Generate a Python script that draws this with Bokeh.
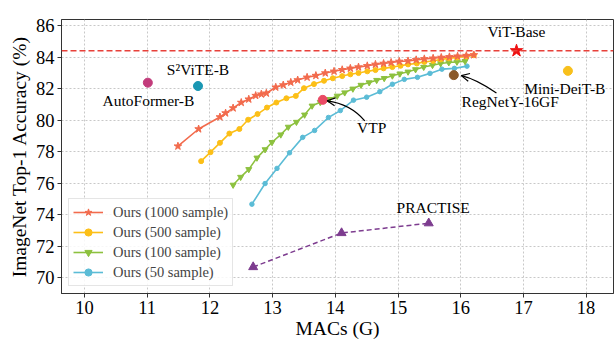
from bokeh.plotting import figure
from bokeh.models import Range1d, Span, Arrow, OpenHead, FixedTicker, Legend, LegendItem
from bokeh.core.properties import value
from bokeh.embed import file_html
from bokeh.resources import INLINE

# ---- data ----
x_1000 = [11.49, 11.82, 12.16, 12.25, 12.37, 12.50, 12.62, 12.73, 12.82, 12.90, 13.05, 13.17, 13.29, 13.40,
          13.55, 13.69, 13.84, 13.98, 14.11, 14.24, 14.37, 14.51, 14.64, 14.77, 14.89, 15.02, 15.16, 15.29,
          15.42, 15.56, 15.69, 15.82, 15.95, 16.09, 16.21]
y_1000 = [78.36, 79.45, 80.21, 80.46, 80.78, 81.13, 81.34, 81.57, 81.66, 81.72, 82.10, 82.24, 82.41, 82.56,
          82.73, 82.84, 83.00, 83.11, 83.21, 83.30, 83.38, 83.46, 83.55, 83.61, 83.67, 83.74, 83.77, 83.84,
          83.90, 83.94, 83.99, 84.03, 84.07, 84.11, 84.15]

x_500 = [11.86, 12.01, 12.16, 12.31, 12.47, 12.61, 12.76, 12.91, 13.06, 13.22, 13.37, 13.50, 13.66, 13.82,
         13.96, 14.11, 14.24, 14.37, 14.51, 14.64, 14.77, 14.91, 15.04, 15.16, 15.30, 15.42, 15.56, 15.68,
         15.81, 15.94, 16.09, 16.21]
y_500 = [77.41, 77.98, 78.57, 79.16, 79.45, 80.04, 80.40, 80.81, 81.13, 81.40, 81.55, 82.04, 82.30, 82.51,
         82.67, 82.81, 82.92, 83.00, 83.11, 83.19, 83.30, 83.38, 83.46, 83.55, 83.61, 83.71, 83.77, 83.86,
         83.93, 83.99, 84.05, 84.13]

x_100 = [12.37, 12.49, 12.62, 12.75, 12.88, 12.99, 13.13, 13.25, 13.38, 13.51, 13.63, 13.76, 13.90, 14.03,
         14.15, 14.28, 14.41, 14.54, 14.66, 14.78, 14.91, 15.03, 15.16, 15.28, 15.41, 15.55, 15.68, 15.81,
         15.94, 16.07]
y_100 = [75.90, 76.40, 76.89, 77.62, 78.15, 78.61, 79.09, 79.58, 79.89, 80.35, 80.92, 81.15, 81.34, 81.55,
         81.76, 82.00, 82.24, 82.40, 82.55, 82.67, 82.83, 82.96, 83.08, 83.23, 83.38, 83.50, 83.61, 83.67,
         83.71, 83.75]

x_50 = [12.67, 12.88, 13.07, 13.27, 13.48, 13.67, 13.89, 14.08, 14.29, 14.50, 14.71, 14.91, 15.10, 15.31,
        15.51, 15.70, 15.90, 16.10]
y_50 = [74.68, 75.99, 76.95, 77.94, 78.92, 79.36, 80.18, 80.62, 81.28, 81.47, 81.82, 82.29, 82.60, 82.73,
        82.98, 83.25, 83.30, 83.44]

x_practise = [12.69, 14.10, 15.49]
y_practise = [70.69, 72.85, 73.47]

other_names = ["AutoFormer-B", "S²ViTE-B", "VTP", "RegNetY-16GF", "Mini-DeiT-B"]
other_x = [11.01, 11.81, 13.80, 15.89, 17.71]
other_y = [82.39, 82.18, 81.30, 82.87, 83.14]
other_colors = ["#c23b7b", "#1a97b3", "#ea4a64", "#8b5a2b", "#f8c01c"]

vit_x = [16.89]
vit_y = [84.42]

x_ticks = [10, 11, 12, 13, 14, 15, 16, 17, 18]
y_ticks = [70, 72, 74, 76, 78, 80, 82, 84, 86]

# label placements (data coords)
lab_text = ["AutoFormer-B", "S²ViTE-B", "VTP", "RegNetY-16GF", "Mini-DeiT-B", "ViT-Base", "PRACTISE"]
lab_x = [11.02, 11.81, 14.58, 16.79, 17.66, 16.89, 15.56]
lab_y = [81.23, 83.25, 79.57, 81.17, 82.05, 85.62, 74.47]

SERIF = "Liberation Serif"

p = figure(width=615, height=341, output_backend="svg", toolbar_location=None,
           x_range=Range1d(9.633, 18.437), y_range=Range1d(69.01, 86.40),
           min_border_left=61, min_border_right=2, min_border_top=19, min_border_bottom=46)
p.background_fill_color = "white"
p.outline_line_color = "#333333"
p.outline_line_width = 1

for ax in (p.xaxis, p.yaxis):
    ax.axis_line_color = "#333333"
    ax.major_tick_line_color = "#333333"
    ax.major_tick_out = 4
    ax.major_tick_in = 0
    ax.minor_tick_line_color = None
    ax.major_label_text_font = SERIF
    ax.major_label_text_font_size = "18.5px"
    ax.major_label_text_color = "black"
    ax.axis_label_text_font = SERIF
    ax.axis_label_text_font_size = "19.5px"
    ax.axis_label_text_font_style = "normal"
    ax.axis_label_text_color = "black"
p.xaxis.ticker = FixedTicker(ticks=x_ticks)
p.yaxis.ticker = FixedTicker(ticks=y_ticks)
p.xaxis.axis_label = "MACs (G)"
p.yaxis.axis_label = "ImageNet Top-1 Accuracy (%)"
p.xaxis.major_label_standoff = 3
p.yaxis.major_label_standoff = 3
p.xaxis.axis_label_standoff = 1
p.yaxis.axis_label_standoff = 3

p.grid.grid_line_color = "#c8c8c8"
p.grid.grid_line_dash = "2 2"
p.grid.grid_line_width = 1

# reference line
p.add_layout(Span(location=vit_y[0], dimension="width", line_color="#e8413a",
                  line_dash="6 3", line_width=1.5))

# PRACTISE
pc = "#7d3c8f"
p.line(x_practise, y_practise, line_color=pc, line_dash="5 3", line_width=1.5)
p.scatter(x_practise, y_practise, marker="triangle", size=9, color=pc)

series = [
    (x_50, y_50, "#5bbcd6", "circle", 4.5, "Ours (50 sample)"),
    (x_100, y_100, "#8dc13f", "inverted_triangle", 6, "Ours (100 sample)"),
    (x_500, y_500, "#fcbf17", "circle", 5, "Ours (500 sample)"),
    (x_1000, y_1000, "#f26b4d", "star", 8, "Ours (1000 sample)"),
]
items = {}
for xs, ys, col, mk, sz, lab in series:
    r1 = p.line(xs, ys, line_color=col, line_width=1.6)
    r2 = p.scatter(xs, ys, marker=mk, size=sz, color=col)
    items[lab] = [r1, r2]

# other models
p.scatter(other_x, other_y, marker="circle", size=9, color=other_colors)
p.scatter(vit_x, vit_y, marker="star", size=13, color="#ee1111")

# labels
p.text(lab_x, lab_y, text=lab_text, text_font=value(SERIF), text_font_size="15.5px",
       text_align="center", text_baseline="middle", text_color="black")

# curved arrows
arr_x0 = [14.47, 16.57]
arr_y0 = [79.97, 81.74]
arr_cx = [14.24, 16.24]
arr_cy = [81.05, 82.63]
arr_x1 = [13.87, 16.01]
arr_y1 = [81.24, 82.84]
p.quadratic(x0=arr_x0, y0=arr_y0, x1=arr_x1, y1=arr_y1, cx=arr_cx, cy=arr_cy,
            line_color="black", line_width=1.2)
for i in range(2):
    p.add_layout(Arrow(end=OpenHead(size=8, line_color="black", line_width=1.2),
                       x_start=arr_cx[i], y_start=arr_cy[i], x_end=arr_x1[i], y_end=arr_y1[i],
                       line_alpha=0))

# legend
order = ["Ours (1000 sample)", "Ours (500 sample)", "Ours (100 sample)", "Ours (50 sample)"]
legend = Legend(items=[LegendItem(label=k, renderers=items[k]) for k in order],
                location="bottom_left")
legend.label_text_font = SERIF
legend.label_text_font_size = "14.5px"
legend.glyph_width = 30
legend.glyph_height = 18
legend.label_height = 18
legend.spacing = 2
legend.padding = 4
legend.margin = 7
legend.label_standoff = 10
legend.border_line_color = "#cccccc"
legend.border_line_width = 1
legend.background_fill_alpha = 0.85
p.add_layout(legend)

open("out.html", "w").write(file_html(p, INLINE))
